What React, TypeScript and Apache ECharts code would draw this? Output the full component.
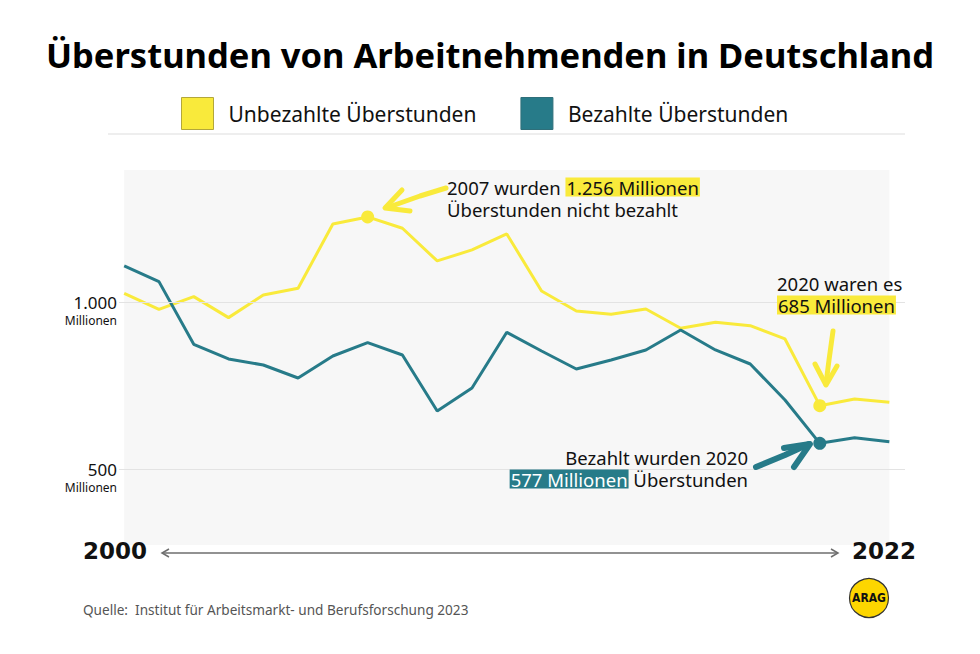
import React, { useEffect, useRef } from "react";
import * as echarts from "echarts";

const years = [2000, 2001, 2002, 2003, 2004, 2005, 2006, 2007, 2008, 2009, 2010, 2011, 2012, 2013, 2014, 2015, 2016, 2017, 2018, 2019, 2020, 2021, 2022];
const unpaid = [1027, 979, 1017, 954, 1022, 1042, 1235, 1256, 1222, 1124, 1157, 1205, 1034, 974, 964, 980, 922, 940, 930, 890, 690, 710, 700];
const paid = [1109, 1062, 874, 830, 812, 773, 839, 879, 842, 674, 743, 910, 854, 800, 827, 857, 917, 857, 815, 707, 577, 594, 582];
const unpaidHighlightYears = [2007, 2020];
const paidHighlightYears = [2020];
const gridValues = [500, 1000];
const yTickLabels: Record<number, string> = { 500: "500", 1000: "1.000" };

const YELLOW = "#f9ea3b";
const TEAL = "#277b89";
const FONT = "Noto Sans";
const ANN = 18.5;

export default function App() {
  const ref = useRef<HTMLDivElement>(null);
  useEffect(() => {
    if (!ref.current) return;
    const chart = echarts.init(ref.current, null, { renderer: "svg" });
    const arrowStyle = (c: string, w: number) => ({ stroke: c, lineWidth: w, lineCap: "round", lineJoin: "round", fill: null });
    const annText = (x: number, y: number, text: string, align: string, hl: string, hlFill: string, lh: number) => ({
      type: "text",
      x,
      y,
      z: 100,
      style: {
        text,
        fontFamily: FONT,
        fontSize: ANN,
        lineHeight: lh,
        fill: "#111",
        align,
        verticalAlign: "top",
        textAlign: align,
        textVerticalAlign: "top",
        rich: {
          h: { fontFamily: FONT, fontSize: ANN, lineHeight: lh, backgroundColor: hl, padding: [0, 1, 0, 1], fill: hlFill, color: hlFill },
        },
      },
    });
    const option: any = {
      animation: false,
      backgroundColor: "#ffffff",
      title: {
        text: "Überstunden von Arbeitnehmenden in Deutschland",
        left: "center",
        top: 32,
        textStyle: { fontFamily: FONT, fontWeight: "bold", fontSize: 34.5, color: "#000" },
      },
      legend: {
        left: 181,
        top: 97,
        padding: 0,
        icon: "rect",
        itemWidth: 32,
        itemHeight: 32,
        itemGap: 44,
        textStyle: { fontFamily: FONT, fontSize: 21, color: "#111", padding: [0, 0, 0, 10] },
        data: [
          { name: "Unbezahlte Überstunden", itemStyle: { borderColor: "#b3a73a", borderWidth: 1 } },
          { name: "Bezahlte Überstunden", itemStyle: { borderColor: "#2f6f7a", borderWidth: 1 } },
        ],
      },
      grid: { left: 119, right: 75, top: 168.9, bottom: 101.6, containLabel: false },
      xAxis: {
        type: "value",
        min: 1999.851,
        max: 2022.45,
        axisLine: { show: false },
        axisTick: { show: false },
        axisLabel: { show: false },
        splitLine: { show: false },
      },
      yAxis: {
        type: "value",
        min: 250,
        max: 1400,
        interval: 250,
        axisLine: { show: false },
        axisTick: { show: false },
        splitLine: { show: false },
        axisLabel: {
          margin: 2,
          formatter: (v: number) =>
            yTickLabels[v] ? `{s| }\n{a|${yTickLabels[v]}}\n{b|Millionen}` : "",
          rich: {
            s: { fontSize: 12, lineHeight: 17, align: "right" },
            a: { fontFamily: FONT, fontSize: 17, lineHeight: 19, color: "#111", align: "right" },
            b: { fontFamily: FONT, fontSize: 12, lineHeight: 17, color: "#111", align: "right" },
          },
        },
      },
      series: [
        {
          name: "bg",
          type: "line",
          data: [],
          z: 0,
          silent: true,
          markArea: {
            silent: true,
            itemStyle: { color: "#f7f7f7" },
            data: [[{ xAxis: years[0], yAxis: 272 }, { xAxis: years[years.length - 1], yAxis: 1397 }]],
          },
        },
        {
          name: "grid",
          type: "line",
          data: [],
          z: 1,
          silent: true,
          markLine: {
            silent: true,
            symbol: ["none", "none"],
            label: { show: false },
            lineStyle: { color: "#e3e3e3", width: 1, type: "solid" },
            data: gridValues.map((v) => ({ yAxis: v })),
          },
        },
        {
          name: "Unbezahlte Überstunden",
          type: "line",
          z: 3,
          color: YELLOW,
          symbol: "none",
          lineStyle: { width: 3, color: YELLOW },
          itemStyle: { color: YELLOW },
          data: years.map((y, i) => [y, unpaid[i]]),
        },
        {
          name: "Bezahlte Überstunden",
          type: "line",
          z: 3,
          color: TEAL,
          symbol: "none",
          lineStyle: { width: 3, color: TEAL },
          itemStyle: { color: TEAL },
          data: years.map((y, i) => [y, paid[i]]),
        },
        {
          name: "unpaidMarks",
          type: "scatter",
          z: 4,
          symbolSize: 13,
          itemStyle: { color: YELLOW, opacity: 1 },
          data: unpaidHighlightYears.map((y) => [y, unpaid[years.indexOf(y)]]),
        },
        {
          name: "paidMarks",
          type: "scatter",
          z: 4,
          symbolSize: 13,
          itemStyle: { color: TEAL, opacity: 1 },
          data: paidHighlightYears.map((y) => [y, paid[years.indexOf(y)]]),
        },
      ],
      graphic: [
        { type: "line", z: 100, shape: { x1: 108, y1: 134, x2: 905, y2: 134 }, style: { stroke: "#dddddd", lineWidth: 1 } },
        annText(447, 176, "2007 wurden {h|1.256 Millionen}\nÜberstunden nicht bezahlt", "left", YELLOW, "#111", 22),
        annText(777, 272, "2020 waren es\n{h|685 Millionen}", "left", YELLOW, "#111", 22),
        annText(748, 446, "Bezahlt wurden 2020\n{h|577 Millionen} Überstunden", "right", TEAL, "#ffffff", 22),
        // hand-drawn arrows
        { type: "polyline", z: 100, shape: { points: [[446, 188], [420, 196], [389, 207]] }, style: arrowStyle(YELLOW, 5) },
        { type: "polyline", z: 100, shape: { points: [[402, 190], [385, 208], [410, 211]] }, style: arrowStyle(YELLOW, 5) },
        { type: "polyline", z: 100, shape: { points: [[833, 331], [829, 360], [826, 384]] }, style: arrowStyle(YELLOW, 5) },
        { type: "polyline", z: 100, shape: { points: [[815, 364], [826, 385], [837, 366]] }, style: arrowStyle(YELLOW, 5) },
        { type: "polyline", z: 100, shape: { points: [[756, 467], [785, 455], [809, 444]] }, style: arrowStyle(TEAL, 6) },
        { type: "polyline", z: 100, shape: { points: [[784, 448], [810, 444], [794, 467]] }, style: arrowStyle(TEAL, 6) },
        // bottom time axis
        {
          type: "text",
          x: 83,
          y: 551,
          z: 100,
          style: { text: "2000", fontFamily: "DejaVu Sans", fontWeight: "bold", fontSize: 23, fill: "#111", align: "left", verticalAlign: "middle", textAlign: "left", textVerticalAlign: "middle" },
        },
        {
          type: "text",
          x: 916,
          y: 551,
          z: 100,
          style: { text: "2022", fontFamily: "DejaVu Sans", fontWeight: "bold", fontSize: 23, fill: "#111", align: "right", verticalAlign: "middle", textAlign: "right", textVerticalAlign: "middle" },
        },
        { type: "line", z: 100, shape: { x1: 162, y1: 553, x2: 838, y2: 553 }, style: { stroke: "#6e6e6e", lineWidth: 1.5 } },
        { type: "polyline", z: 100, shape: { points: [[169, 549], [162, 553], [169, 557]] }, style: { stroke: "#6e6e6e", lineWidth: 1.5, fill: null } },
        { type: "polyline", z: 100, shape: { points: [[831, 549], [838, 553], [831, 557]] }, style: { stroke: "#6e6e6e", lineWidth: 1.5, fill: null } },
        {
          type: "text",
          x: 83,
          y: 609,
          z: 100,
          style: { text: "Quelle:  Institut für Arbeitsmarkt- und Berufsforschung 2023", fontFamily: FONT, fontSize: 13.6, fill: "#555", align: "left", verticalAlign: "middle", textAlign: "left", textVerticalAlign: "middle" },
        },
        // logo
        { type: "circle", z: 100, shape: { cx: 869, cy: 598, r: 19.5 }, style: { fill: "#fdd600", stroke: "#333", lineWidth: 1.2 } },
        {
          type: "text",
          x: 869,
          y: 598,
          z: 101,
          style: { text: "ARAG", fontFamily: "DejaVu Sans Condensed", fontWeight: "bold", fontSize: 12, fill: "#111", align: "center", verticalAlign: "middle", textAlign: "center", textVerticalAlign: "middle" },
        },
      ],
    };
    chart.setOption(option);
    return () => chart.dispose();
  }, []);
  return <div ref={ref} style={{ position: "absolute", left: 0, top: 0, width: 980, height: 654 }} />;
}
